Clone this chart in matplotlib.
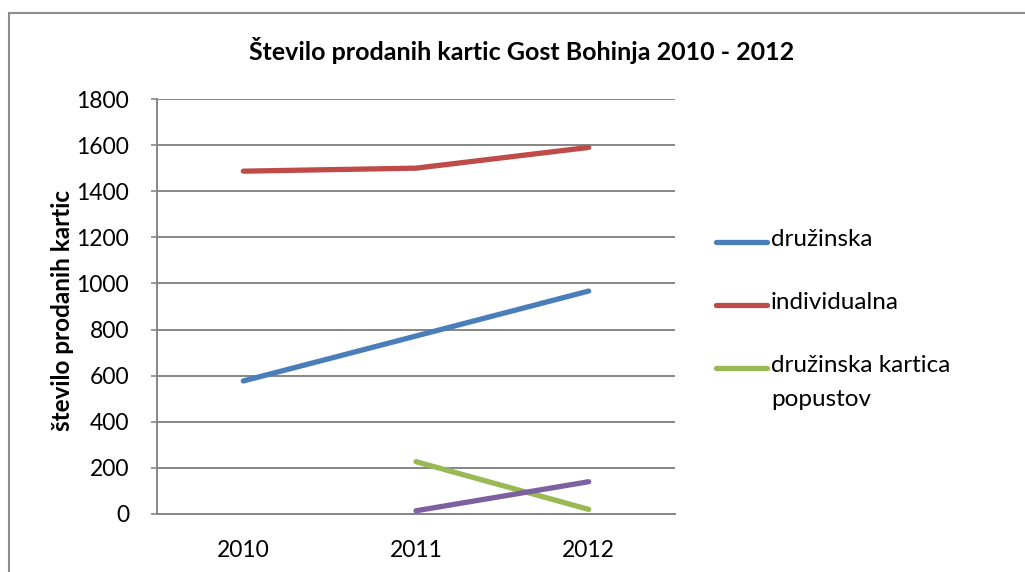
import matplotlib.pyplot as plt
from matplotlib.lines import Line2D
from matplotlib.patches import Rectangle

# data
years = ["2010", "2011", "2012"]
druzinska = [577, 772, 967]
individualna = [1487, 1500, 1590]
kartica_popustov = [None, 227, 20]
cetrta = [None, 14, 140]

labels = ["družinska", "individualna", "družinska kartica\npopustov"]
colors = ["#4A7EBB", "#BE4B48", "#98B954", "#7D60A0"]

plt.rcParams['font.family'] = ['Lato', 'DejaVu Sans']

fig = plt.figure(figsize=(10.25, 5.72), dpi=100)
W, H = 1025, 572
# chart area border (only top and left visible)
fig.add_artist(Rectangle((9 / W, -0.1), 1.2, 1.1 - 13 / H, transform=fig.transFigure,
                         fill=False, edgecolor="#8C8C8C", linewidth=1.5))

ax = fig.add_axes([157 / W, 1 - 514 / H, (675 - 157) / W, (514 - 99) / H])

x = [0, 1, 2]
series = [druzinska, individualna, kartica_popustov, cetrta]
for i, s in enumerate(series):
    xs = [xi for xi, v in zip(x, s) if v is not None]
    ys = [v for v in s if v is not None]
    ax.plot(xs, ys, color=colors[i], linewidth=3.8, solid_capstyle='round',
            solid_joinstyle='round', zorder=3)

ax.set_xlim(-0.5, 2.5)
ax.set_ylim(0, 1800)
ax.set_yticks(range(0, 1801, 200))
ax.set_xticks(x)
ax.set_xticklabels(years)
ax.grid(axis='y', color="#868686", linewidth=1.4)
ax.set_axisbelow(True)
for side in ["top", "right"]:
    ax.spines[side].set_visible(False)
for side in ["left", "bottom"]:
    ax.spines[side].set_color("#868686")
    ax.spines[side].set_linewidth(1.4)
ax.tick_params(axis='y', length=4, color="#868686", width=1.2, labelsize=16.5, pad=16)
ax.tick_params(axis='x', length=0, labelsize=16.5, pad=19)

ax.set_ylabel("število prodanih kartic", fontsize=17.5, fontweight='bold')
ax.yaxis.set_label_coords((74 - 157) / 518, 0.49)
fig.text(522 / W, 1 - 50 / H, "Število prodanih kartic Gost Bohinja 2010 - 2012",
         ha='center', va='center', fontsize=18, fontweight='bold')

# legend drawn by hand so the handle sits on the first line of wrapped labels
leg_y = [242, 305, 368]
for c, lab, yp in zip(colors[:3], labels, leg_y):
    fig.add_artist(Line2D([716 / W, 767 / W], [1 - yp / H, 1 - yp / H], transform=fig.transFigure,
                          color=c, linewidth=3.8, solid_capstyle='round'))
    fig.text(771 / W, 1 - (yp - 13) / H, lab, ha='left', va='top', fontsize=17.5,
             linespacing=1.75)

fig.savefig("out.png", dpi=100)
